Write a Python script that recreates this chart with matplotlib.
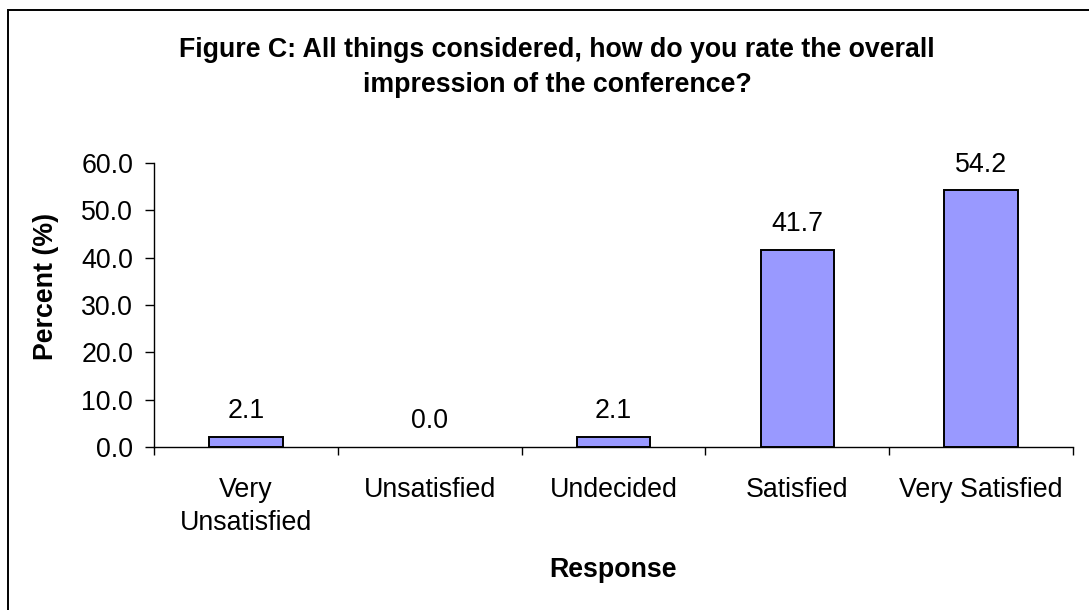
import matplotlib
matplotlib.use("Agg")
import matplotlib.pyplot as plt
from matplotlib.patches import Rectangle
from matplotlib.ticker import FormatStrFormatter

categories = ["Very\nUnsatisfied", "Unsatisfied", "Undecided", "Satisfied", "Very Satisfied"]
values = [2.1, 0.0, 2.1, 41.7, 54.2]
yticks = [0, 10, 20, 30, 40, 50, 60]
title_lines = ["Figure C: All things considered, how do you rate the overall",
               "impression of the conference?"]
xlabel = "Response"
ylabel = "Percent (%)"

plt.rcParams['font.family'] = ['Liberation Sans', 'DejaVu Sans']
W, H = 1089, 610
fig = plt.figure(figsize=(W / 100, H / 100), dpi=100)
FS = 19.3

ax = fig.add_axes([154 / W, (H - 447) / H, (1073 - 154) / W, (447 - 163) / H])
x = list(range(len(categories)))
bars = ax.bar(x, values, width=0.4, color="#9999FF", edgecolor="black", linewidth=1.4, zorder=3)
for b, v in zip(bars, values):
    if v == 0:
        b.set_linewidth(0)
for xi, v in zip(x, values):
    ax.annotate(f"{v:.1f}", (xi, v), xytext=(0, 13.5), textcoords="offset points",
                ha="center", va="baseline", fontsize=FS)

ax.set_xlim(-0.5, len(categories) - 0.5)
ax.set_ylim(0, 60)
ax.set_yticks(yticks)
ax.yaxis.set_major_formatter(FormatStrFormatter("%.1f"))
ax.tick_params(axis="y", direction="out", length=6.5, width=1, pad=8.5, labelsize=FS)
ax.set_xticks(x)
ax.set_xticklabels(categories, fontsize=FS, linespacing=1.38)
ax.tick_params(axis="x", which="major", length=0, pad=21.5)
ax.set_xticks([i - 0.5 for i in range(len(categories) + 1)], minor=True)
ax.tick_params(axis="x", which="minor", direction="out", length=6, width=1)
for s in ["top", "right"]:
    ax.spines[s].set_visible(False)
for s in ["left", "bottom"]:
    ax.spines[s].set_linewidth(1)

fig.text(557 / W, 1 - 57 / H, title_lines[0], ha="center", va="baseline", fontsize=FS, fontweight="bold")
fig.text(557 / W, 1 - 92 / H, title_lines[1], ha="center", va="baseline", fontsize=FS, fontweight="bold")
fig.text(613 / W, 1 - 577 / H, xlabel, ha="center", va="baseline", fontsize=FS, fontweight="bold")
fig.text(46 / W, 1 - 286 / H, ylabel, ha="center", va="center", rotation=90, fontsize=FS,
         fontweight="bold")

fig.add_artist(Rectangle((8 / W, -0.05), 1.1, 1.05 - 10 / H, transform=fig.transFigure,
                         fill=False, edgecolor="black", linewidth=1.4))

fig.savefig("out.png", dpi=100)
